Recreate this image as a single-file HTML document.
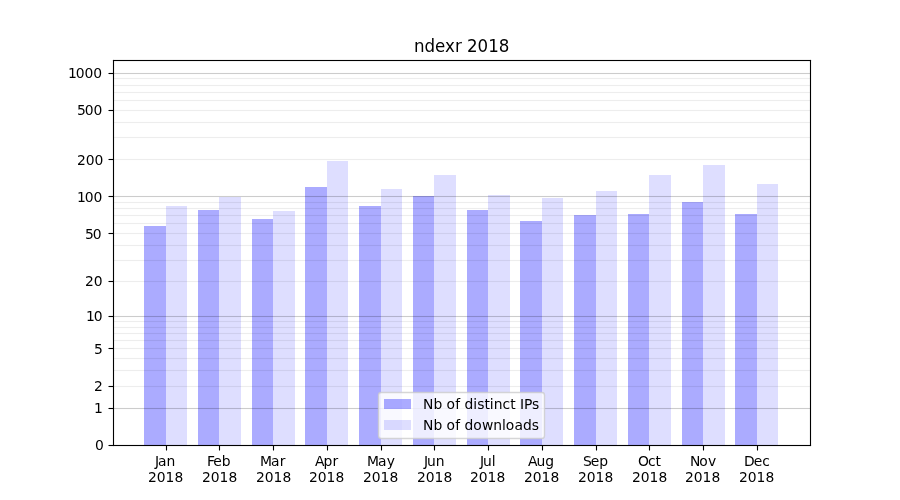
<!DOCTYPE html>
<html lang="en">
<head>
<meta charset="utf-8">
<title>ndexr 2018</title>
<style>
html,body{margin:0;padding:0;background:#fff;}
body{width:900px;height:500px;overflow:hidden;}
svg{display:block;}
svg text{font-family:"DejaVu Sans","Liberation Sans",sans-serif;fill:#000;white-space:pre;}
.t{font-size:13.889px;}
.h{font-size:16.667px;}
</style>
</head>
<body>
<svg width="900" height="500" viewBox="0 0 900 500">
<rect width="900" height="500" fill="#fff"/>
<g fill="#0000ff" fill-opacity="0.33">
<rect x="144" y="226" width="22" height="219"/>
<rect x="198" y="210" width="21" height="235"/>
<rect x="252" y="219" width="21" height="226"/>
<rect x="305" y="187" width="22" height="258"/>
<rect x="359" y="206" width="22" height="239"/>
<rect x="413" y="196" width="21" height="249"/>
<rect x="467" y="210" width="21" height="235"/>
<rect x="520" y="221" width="22" height="224"/>
<rect x="574" y="215" width="22" height="230"/>
<rect x="628" y="214" width="21" height="231"/>
<rect x="682" y="202" width="21" height="243"/>
<rect x="735" y="214" width="22" height="231"/>
</g>
<g fill="#0000ff" fill-opacity="0.13">
<rect x="166" y="206" width="21" height="239"/>
<rect x="219" y="197" width="22" height="248"/>
<rect x="273" y="211" width="22" height="234"/>
<rect x="327" y="161" width="21" height="284"/>
<rect x="381" y="189" width="21" height="256"/>
<rect x="434" y="175" width="22" height="270"/>
<rect x="488" y="195" width="22" height="250"/>
<rect x="542" y="198" width="21" height="247"/>
<rect x="596" y="191" width="21" height="254"/>
<rect x="649" y="175" width="22" height="270"/>
<rect x="703" y="165" width="22" height="280"/>
<rect x="757" y="184" width="21" height="261"/>
</g>
<g fill="#000" fill-opacity="0.07">
<rect x="113" y="385.944" width="697.5" height="1.1111"/>
<rect x="113" y="369.944" width="697.5" height="1.1111"/>
<rect x="113" y="357.944" width="697.5" height="1.1111"/>
<rect x="113" y="347.944" width="697.5" height="1.1111"/>
<rect x="113" y="339.944" width="697.5" height="1.1111"/>
<rect x="113" y="332.944" width="697.5" height="1.1111"/>
<rect x="113" y="326.944" width="697.5" height="1.1111"/>
<rect x="113" y="320.944" width="697.5" height="1.1111"/>
<rect x="113" y="280.944" width="697.5" height="1.1111"/>
<rect x="113" y="259.944" width="697.5" height="1.1111"/>
<rect x="113" y="244.944" width="697.5" height="1.1111"/>
<rect x="113" y="232.944" width="697.5" height="1.1111"/>
<rect x="113" y="222.944" width="697.5" height="1.1111"/>
<rect x="113" y="214.944" width="697.5" height="1.1111"/>
<rect x="113" y="207.944" width="697.5" height="1.1111"/>
<rect x="113" y="201.944" width="697.5" height="1.1111"/>
<rect x="113" y="158.944" width="697.5" height="1.1111"/>
<rect x="113" y="136.944" width="697.5" height="1.1111"/>
<rect x="113" y="121.944" width="697.5" height="1.1111"/>
<rect x="113" y="109.944" width="697.5" height="1.1111"/>
<rect x="113" y="99.944" width="697.5" height="1.1111"/>
<rect x="113" y="91.944" width="697.5" height="1.1111"/>
<rect x="113" y="84.944" width="697.5" height="1.1111"/>
<rect x="113" y="77.944" width="697.5" height="1.1111"/>
</g>
<g fill="#000" fill-opacity="0.2">
<rect x="113" y="407.944" width="697.5" height="1.1111"/>
<rect x="113" y="315.944" width="697.5" height="1.1111"/>
<rect x="113" y="195.944" width="697.5" height="1.1111"/>
<rect x="113" y="72.944" width="697.5" height="1.1111"/>
</g>
<g stroke="#000" stroke-width="1.1111">
<line x1="108.5" y1="445.5" x2="113.5" y2="445.5"/>
<line x1="108.5" y1="408.5" x2="113.5" y2="408.5"/>
<line x1="108.5" y1="386.5" x2="113.5" y2="386.5"/>
<line x1="108.5" y1="348.5" x2="113.5" y2="348.5"/>
<line x1="108.5" y1="316.5" x2="113.5" y2="316.5"/>
<line x1="108.5" y1="281.5" x2="113.5" y2="281.5"/>
<line x1="108.5" y1="233.5" x2="113.5" y2="233.5"/>
<line x1="108.5" y1="196.5" x2="113.5" y2="196.5"/>
<line x1="108.5" y1="159.5" x2="113.5" y2="159.5"/>
<line x1="108.5" y1="110.5" x2="113.5" y2="110.5"/>
<line x1="108.5" y1="73.5" x2="113.5" y2="73.5"/>
<line x1="166.5" y1="445.5" x2="166.5" y2="450.5"/>
<line x1="219.5" y1="445.5" x2="219.5" y2="450.5"/>
<line x1="273.5" y1="445.5" x2="273.5" y2="450.5"/>
<line x1="327.5" y1="445.5" x2="327.5" y2="450.5"/>
<line x1="381.5" y1="445.5" x2="381.5" y2="450.5"/>
<line x1="434.5" y1="445.5" x2="434.5" y2="450.5"/>
<line x1="488.5" y1="445.5" x2="488.5" y2="450.5"/>
<line x1="542.5" y1="445.5" x2="542.5" y2="450.5"/>
<line x1="596.5" y1="445.5" x2="596.5" y2="450.5"/>
<line x1="649.5" y1="445.5" x2="649.5" y2="450.5"/>
<line x1="703.5" y1="445.5" x2="703.5" y2="450.5"/>
<line x1="757.5" y1="445.5" x2="757.5" y2="450.5"/>
</g>
<g fill="#000">
<rect x="112.944" y="59.944" width="1.1111" height="386.111"/>
<rect x="809.944" y="59.944" width="1.1111" height="386.111"/>
<rect x="112.944" y="444.944" width="698.111" height="1.1111"/>
<rect x="112.944" y="59.944" width="698.111" height="1.1111"/>
</g>
<rect x="378.5" y="392.5" width="166" height="46" rx="2.78" ry="2.78" fill="#fff" fill-opacity="0.8" stroke="#ccc" stroke-opacity="0.8" stroke-width="1.389"/>
<rect x="384" y="399" width="27" height="10" fill="#0000ff" fill-opacity="0.33"/>
<rect x="384" y="420" width="27" height="10" fill="#0000ff" fill-opacity="0.13"/>
<text class="t" transform="translate(0,450) scale(1,1.03)" x="95" y="0">0</text>
<text class="t" transform="translate(0,413) scale(1,1.07)" x="94" y="0">1</text>
<text class="t" transform="translate(0,391) scale(1,1.03)" x="94" y="0">2</text>
<text class="t" transform="translate(0,354) scale(1,1.03)" x="94" y="0">5</text>
<text class="t" transform="translate(0,321) scale(1,1.07)" x="86 93.75" y="0">10</text>
<text class="t" transform="translate(0,286) scale(1,1.07)" x="85 93.75" y="0">20</text>
<text class="t" transform="translate(0,239) scale(1,1.03)" x="85 92.75" y="0">50</text>
<text class="t" transform="translate(0,202) scale(1,1.05)" x="77 84.75 93.5" y="0">100</text>
<text class="t" transform="translate(0,165) scale(1,1.05)" x="77 85.75 94.5" y="0">200</text>
<text class="t" transform="translate(0,115) scale(1,1.05)" x="77 84.75 93.5" y="0">500</text>
<text class="t" transform="translate(0,78) scale(1,1.05)" x="68 75.75 84.5 93.25" y="0">1000</text>
<text class="t" transform="translate(0,466) scale(1,1.05)" x="155 158 166.5" y="0">Jan</text>
<text class="t" transform="translate(0,482) scale(1,1.03)" x="148 156.75 165.5 174.5" y="0">2018</text>
<text class="t" transform="translate(0,466) scale(1,1.03)" x="207 213.25 221.75" y="0">Feb</text>
<text class="t" transform="translate(0,482) scale(1,1.03)" x="202 210.75 219.5 228.5" y="0">2018</text>
<text class="t" transform="translate(0,466) scale(1,1.05)" x="260 271 279.75" y="0">Mar</text>
<text class="t" transform="translate(0,482) scale(1,1.03)" x="256 264.75 273.5 282.5" y="0">2018</text>
<text class="t" transform="translate(0,466) scale(1,1.07)" x="315 323.5 332.5" y="0">Apr</text>
<text class="t" transform="translate(0,482) scale(1,1.03)" x="309 317.75 326.5 335.5" y="0">2018</text>
<text class="t" transform="translate(0,466) scale(1,1.03)" x="367 378 386.75" y="0">May</text>
<text class="t" transform="translate(0,482) scale(1,1.03)" x="363 371.75 380.5 389.5" y="0">2018</text>
<text class="t" transform="translate(0,466) scale(1,1.03)" x="424 427 435.75" y="0">Jun</text>
<text class="t" transform="translate(0,482) scale(1,1.03)" x="417 425.75 434.5 443.5" y="0">2018</text>
<text class="t" transform="translate(0,466) scale(1,1.03)" x="480 483 491.75" y="0">Jul</text>
<text class="t" transform="translate(0,482) scale(1,1.03)" x="470 478.75 487.5 496.5" y="0">2018</text>
<text class="t" transform="translate(0,466)" x="528 536.5 545.25" y="0">Aug</text>
<text class="t" transform="translate(0,482) scale(1,1.03)" x="524 532.75 541.5 550.5" y="0">2018</text>
<text class="t" transform="translate(0,466) scale(1,1.05)" x="583 590.75 599.25" y="0">Sep</text>
<text class="t" transform="translate(0,482) scale(1,1.03)" x="578 586.75 595.5 604.5" y="0">2018</text>
<text class="t" transform="translate(0,466) scale(1,1.07)" x="638 648 655.5" y="0">Oct</text>
<text class="t" transform="translate(0,482) scale(1,1.03)" x="632 640.75 649.5 658.5" y="0">2018</text>
<text class="t" transform="translate(0,466) scale(1,1.03)" x="690 699.25 708" y="0">Nov</text>
<text class="t" transform="translate(0,482) scale(1,1.03)" x="685 693.75 702.5 711.5" y="0">2018</text>
<text class="t" transform="translate(0,466) scale(1,1.05)" x="744 753.75 762.25" y="0">Dec</text>
<text class="t" transform="translate(0,482) scale(1,1.05)" x="739 747.75 756.5 765.5" y="0">2018</text>
<text class="h" transform="translate(0,52) scale(1,1.08)" x="414 424.5 435 445 455 461.75 467 477.5 488.25 498.75" y="0">ndexr 2018</text>
<text class="t" transform="translate(0,409) scale(1,1.03)" x="423 433.5 442.5 446.5 455.25 460.25 464.5 473.25 477.25 484.5 489.75 493.75 502.5 510.25 515.75 520 524 532" y="0">Nb of distinct IPs</text>
<text class="t" transform="translate(0,430) scale(1,1.03)" x="423 433.5 442.5 446.5 455.25 460.25 464.5 473.25 482 493.25 502 505.75 514.5 523 531.75" y="0">Nb of downloads</text>
</svg>
</body>
</html>
